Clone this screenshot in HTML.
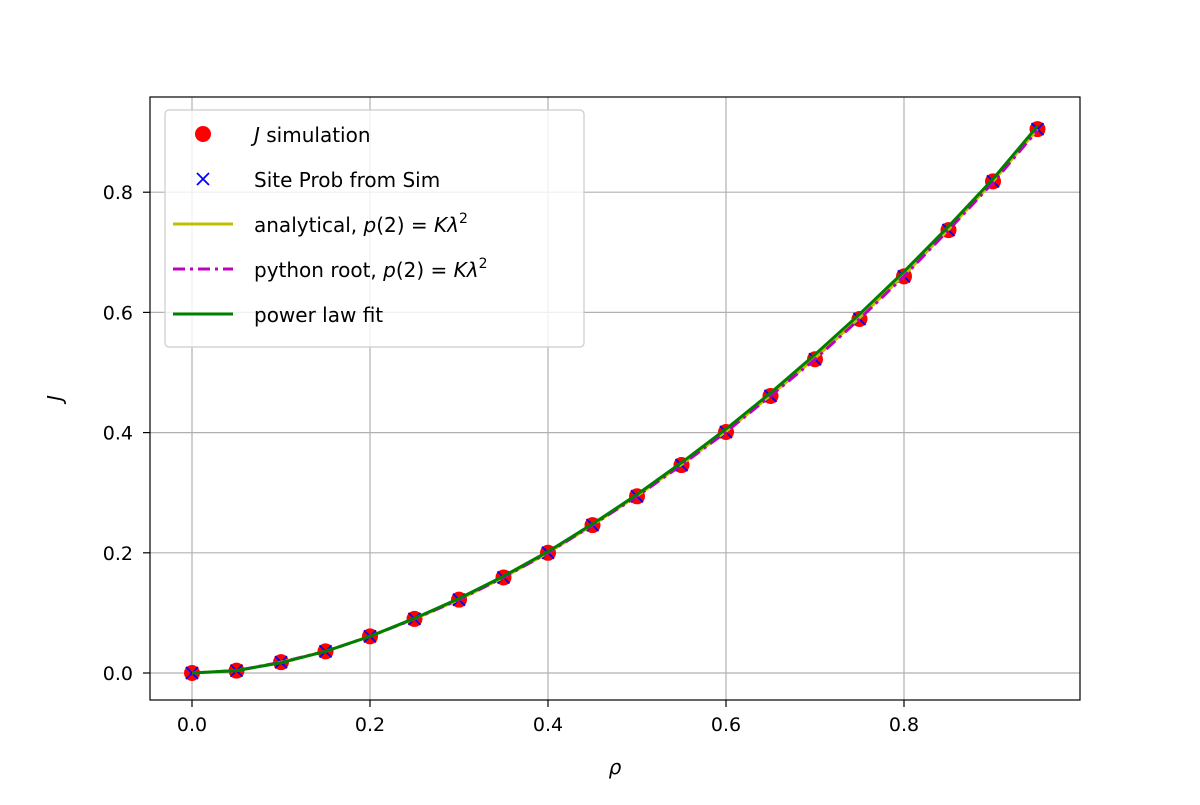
<!DOCTYPE html>
<html><head><meta charset="utf-8"><style>
body{margin:0;background:#fff;}
svg text{font-family:"DejaVu Sans","Liberation Sans",sans-serif;fill:#000;}
</style></head><body>
<svg id="chart" width="1200" height="800" xmlns="http://www.w3.org/2000/svg">
<rect x="0" y="0" width="1200" height="800" fill="#fff"/>
<g id="grid"></g>
<g id="series"></g>
<rect x="150" y="97" width="930" height="603" fill="none" stroke="#000" stroke-width="1.2"/>
<g id="ticks"></g>
<text x="615" y="774" font-size="20" font-style="italic" text-anchor="middle">ρ</text>
<text x="62" y="398" font-size="20" font-style="italic" text-anchor="middle" transform="rotate(-90 62 398)">J</text>
<g>
<rect x="165" y="110" width="419" height="237" rx="4" fill="#fff" fill-opacity="0.8" stroke="#ccc" stroke-width="1.2"/>
<circle cx="203" cy="134" r="8" fill="red"/>
<text x="254" y="142" font-size="20"><tspan font-style="italic">J</tspan> simulation</text>
<path d="M197 173L209 185M209 173L197 185" stroke="blue" stroke-width="1.8"/>
<text x="254" y="187" font-size="20">Site Prob from Sim</text>
<line x1="173" y1="224" x2="233" y2="224" stroke="#bfbf00" stroke-width="3"/>
<text x="254" y="232" font-size="20">analytical, <tspan font-style="italic">p</tspan>(2) = <tspan font-style="italic">Kλ</tspan><tspan font-size="14" dy="-9">2</tspan></text>
<line x1="173" y1="269" x2="233" y2="269" stroke="#bf00bf" stroke-width="3" stroke-dasharray="12,5,3,5"/>
<text x="254" y="277" font-size="20">python root, <tspan font-style="italic">p</tspan>(2) = <tspan font-style="italic">Kλ</tspan><tspan font-size="14" dy="-9">2</tspan></text>
<line x1="173" y1="314" x2="233" y2="314" stroke="green" stroke-width="3"/>
<text x="254" y="322" font-size="20">power law fit</text>
</g>
</svg>
<script>
const rho=[0,0.05,0.1,0.15,0.2,0.25,0.3,0.35,0.4,0.45,0.5,0.55,0.6,0.65,0.7,0.75,0.8,0.85,0.9,0.95];
const jSim=[0,0.004,0.018,0.036,0.061,0.09,0.122,0.159,0.2,0.246,0.294,0.346,0.401,0.461,0.522,0.589,0.66,0.737,0.818,0.905];
const siteProb=[0,0.004,0.018,0.036,0.061,0.09,0.122,0.159,0.2,0.246,0.294,0.346,0.401,0.461,0.522,0.589,0.66,0.737,0.818,0.905];
const analytical=[0,0.004,0.018,0.036,0.061,0.09,0.122,0.159,0.2,0.246,0.295,0.347,0.402,0.462,0.524,0.591,0.662,0.738,0.818,0.905];
const pyRoot=[0,0.004,0.018,0.036,0.061,0.09,0.122,0.159,0.2,0.246,0.294,0.346,0.401,0.461,0.522,0.589,0.66,0.737,0.816,0.903];
const powerFit=[0,0.004,0.017,0.036,0.061,0.091,0.124,0.161,0.202,0.248,0.297,0.35,0.406,0.466,0.53,0.597,0.668,0.743,0.822,0.91];
const xTicks=[0,0.2,0.4,0.6,0.8];
const yTicks=[0,0.2,0.4,0.6,0.8];
const X=v=>192+v*890, Y=v=>673-v*601;
const NS="http://www.w3.org/2000/svg";
function mk(tag,attrs,parent){const e=document.createElementNS(NS,tag);for(const k in attrs)e.setAttribute(k,attrs[k]);document.getElementById(parent).appendChild(e);return e;}
xTicks.forEach(t=>{
 const g=mk('line',{x1:X(t),x2:X(t),y1:97,y2:700,stroke:'#b0b0b0','stroke-width':1.2},'grid');
 
 
 const tk=mk('line',{x1:X(t),x2:X(t),y1:700,y2:707,stroke:'#000','stroke-width':1.2},'ticks');
 
 
 const l=mk('text',{x:X(t),y:731,'font-size':19,'text-anchor':'middle'},'ticks');l.textContent=t.toFixed(1);
 
 
});
yTicks.forEach(t=>{
 const g=mk('line',{x1:150,x2:1080,y1:Y(t),y2:Y(t),stroke:'#b0b0b0','stroke-width':1.2},'grid');
 
 
 const tk=mk('line',{x1:143,x2:150,y1:Y(t),y2:Y(t),stroke:'#000','stroke-width':1.2},'ticks');
 
 
 const l=mk('text',{x:133,y:Y(t)+7,'font-size':19,'text-anchor':'end'},'ticks');l.textContent=t.toFixed(1);
 
 
});
rho.forEach((r,i)=>{
 const c=mk('circle',{cx:X(r),cy:Y(jSim[i]),r:8,fill:'red'},'series');
 
 
});
rho.forEach((r,i)=>{
 const x=X(r),y=Y(siteProb[i]);
 const p=mk('path',{d:`M${x-6} ${y-6}L${x+6} ${y+6}M${x+6} ${y-6}L${x-6} ${y+6}`,stroke:'blue','stroke-width':1.8},'series');
 
 
});
function line(arr,color,dash,name){
 const d=rho.map((r,i)=>(i?'L':'M')+X(r)+' '+Y(arr[i])).join('');
 const p=mk('path',{d:d,fill:'none',stroke:color,'stroke-width':3},'series');
 if(dash)p.setAttribute('stroke-dasharray',dash);
 
 
}
line(analytical,'#bfbf00',null,'analytical-line');
line(pyRoot,'#bf00bf','12,5,3,5','python-root-line');
line(powerFit,'green',null,'power-law-fit-line');
</script>
</body></html>
